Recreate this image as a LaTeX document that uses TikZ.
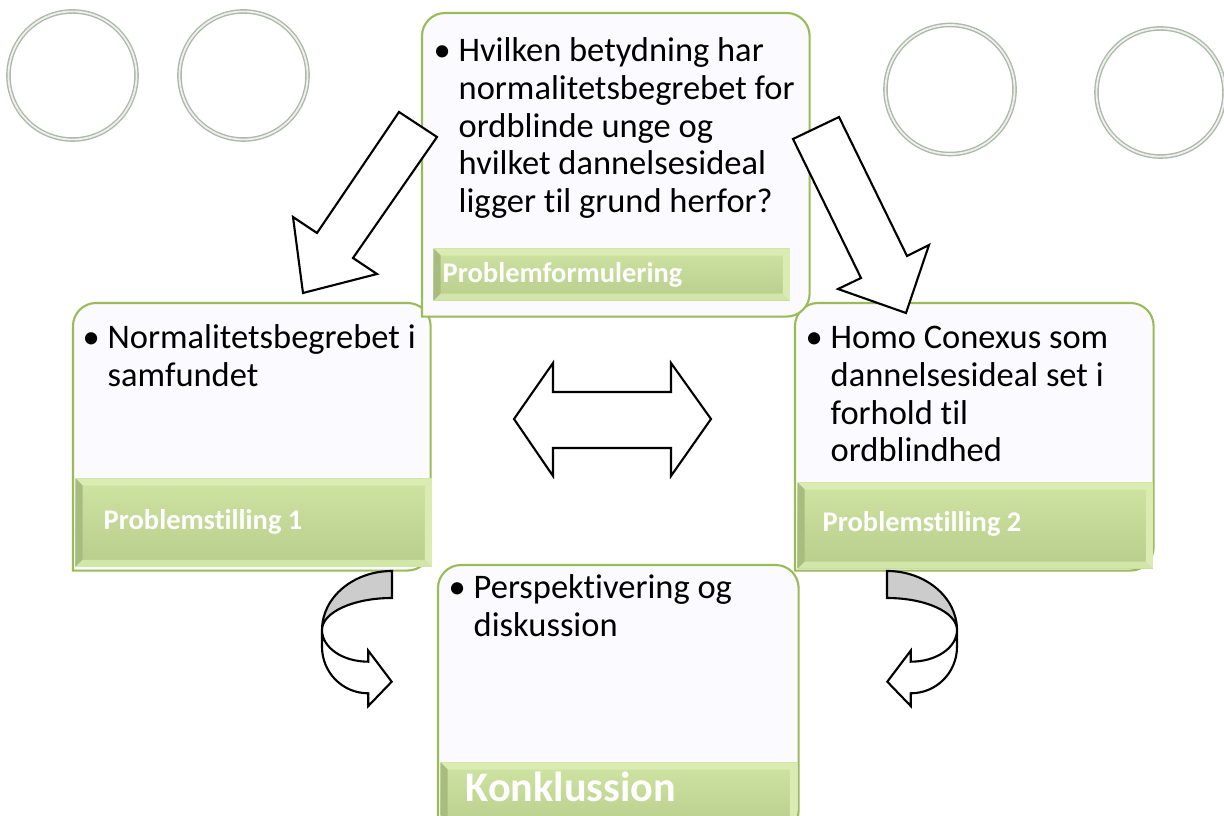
\documentclass[tikz,border=0pt]{standalone}
\usepackage{fontspec}
\setmainfont{Carlito}[Ligatures={NoCommon,NoContextual}]
\usetikzlibrary{shapes}
\definecolor{boxgreen}{HTML}{9BBB59}
\definecolor{boxwhite}{HTML}{FBFAFE}
\definecolor{barlight}{HTML}{CFE3A2}
\definecolor{bardark}{HTML}{B8CD8C}
\definecolor{bevlight}{HTML}{DAECB2}
\definecolor{bevdark}{HTML}{A8BC80}
\definecolor{ringgray}{HTML}{AEB8AB}
\definecolor{backgray}{HTML}{CCCCCC}
\newcommand\bulletmark{\llap{\makebox[0.25cm][l]{\textbullet}}}

\begin{document}
\begin{tikzpicture}[x=0.01cm,y=-0.01cm,
	box/.style={anchor=north west,inner sep=0pt},
	boxframe/.style={draw=boxgreen,fill=boxwhite,line width=0.6pt},
	bar/.style={anchor=north west,inner sep=0pt,top color=barlight,bottom color=bardark,
		path picture={
			\path (path picture bounding box.north west) coordinate (nw)
				(path picture bounding box.north east) coordinate (ne)
				(path picture bounding box.south west) coordinate (sw)
				(path picture bounding box.south east) coordinate (se);
			\fill[bevlight] (nw) -- (ne) -- ([shift={(-7,7)}]ne) -- ([shift={(7,7)}]nw) -- cycle;
			\fill[bevdark] (nw) -- ([shift={(7,7)}]nw) -- ([shift={(7,-7)}]sw) -- (sw) -- cycle;
			\fill[bevlight!80!bardark] (sw) -- (se) -- ([shift={(-7,-7)}]se) -- ([shift={(7,-7)}]sw) -- cycle;
			\fill[bevlight] (ne) -- (se) -- ([shift={(-7,-7)}]se) -- ([shift={(-7,7)}]ne) -- cycle;
		}},
	bodytext/.style={anchor=base west,inner sep=0pt,font=\fontsize{9.8}{10.7}\selectfont},
	bartext/.style={anchor=base west,inner sep=0pt,text=white,font=\fontsize{8.1}{9}\selectfont\bfseries},
	blockarrow/.style={draw=black,fill=white,line width=0.6pt},
	ring/.style={draw=ringgray,double=white!80!ringgray,double distance=0.5pt,line width=0.4pt},
	turnarrow/.pic={
		\filldraw[blockarrow,fill=backgray] (392,571) .. controls (353.4,571) and (322,597.4) .. (322,630)
			.. controls (322,612.3) and (353.4,598) .. (392,598) -- cycle;
		\filldraw[blockarrow] (322,630) .. controls (322,647.5) and (342.5,661.7) .. (368.3,661.7)
			-- (368.3,650.7) -- (391.7,681.7) -- (368.3,706) -- (368.3,693.3)
			.. controls (342.5,693.3) and (322,672.5) .. (322,646.7) -- cycle;
	}]
	\clip (0,0) rectangle (1224,816);

	\draw[ring] (72.5,75.5) circle[radius=0.64cm];
	\draw[ring] (243.5,75.5) circle[radius=0.64cm];
	\draw[ring] (950,89.5) circle[radius=0.645cm];
	\draw[ring] (1160.5,92.5) circle[radius=0.64cm];

	\node[box,minimum width=3.56cm,minimum height=2.66cm] (stil1) at (73,303) {};
	\filldraw[boxframe] (stil1.south west) [rounded corners=0.23cm] -- (stil1.north west) -- (stil1.north east) -- (stil1.south east) [sharp corners] -- cycle;
	\node[bar,minimum width=3.56cm,minimum height=0.88cm] (stil1bar) at (75,478) {};
	\node[bartext] (stil1label) at (103,530) {Problemstilling 1};
	\node[bodytext] (stil1text) at (107,349) {\bulletmark\begin{tabular}[t]{@{}l@{}}Normalitetsbegrebet i\\samfundet\end{tabular}};

	\node[box,minimum width=3.57cm,minimum height=2.66cm] (stil2) at (795,303) {};
	\filldraw[boxframe] (stil2.south west) [rounded corners=0.23cm] -- (stil2.north west) -- (stil2.north east) -- (stil2.south east) [sharp corners] -- cycle;
	\node[bar,minimum width=3.55cm,minimum height=0.86cm] (stil2bar) at (797,482) {};
	\node[bartext] (stil2label) at (822,532) {Problemstilling 2};
	\node[bodytext] (stil2text) at (830,349) {\bulletmark\begin{tabular}[t]{@{}l@{}}Homo Conexus som\\dannelsesideal set i\\forhold til\\ordblindhed\end{tabular}};

	\node[box,minimum width=3.86cm,minimum height=3.02cm] (formul) at (422,13) {};
	\filldraw[boxframe] (formul.south west) [rounded corners=0.23cm] -- (formul.north west) -- (formul.north east) -- (formul.south east) [sharp corners] -- cycle;
	\node[bar,minimum width=3.56cm,minimum height=0.52cm] (formulbar) at (433,248) {};
	\node[bartext] (formullabel) at (442,283) {Problemformulering};
	\node[bodytext] (formultext) at (458,62) {\bulletmark\begin{tabular}[t]{@{}l@{}}Hvilken betydning har\\normalitetsbegrebet for\\ordblinde unge og\\hvilket dannelsesideal\\ligger til grund herfor?\end{tabular}};

	\node[box,minimum width=3.59cm,minimum height=2.67cm] (konkl) at (438,565) {};
	\filldraw[boxframe] (konkl.south west) [rounded corners=0.23cm] -- (konkl.north west) -- (konkl.north east) -- (konkl.south east) [sharp corners] -- cycle;
	\node[bar,minimum width=3.56cm,minimum height=0.7cm] (konklbar) at (440,762) {};
	\node[bartext,font=\fontsize{12}{14}\selectfont\bfseries] (konkllabel) at (465,802) {Konklussion};
	\node[bodytext] (konkltext) at (473,599) {\bulletmark\begin{tabular}[t]{@{}l@{}}Perspektivering og\\diskussion\end{tabular}};

	\filldraw[blockarrow] (399,112) -- (437,137) -- (353,258) -- (377,274) -- (303,293) -- (293,217) -- (317,233) -- cycle;
	\filldraw[blockarrow] (793,139) -- (839,117) -- (907,256) -- (929,245) -- (906,313) -- (838,289) -- (861,278) -- cycle;
	\filldraw[blockarrow] (514,419) -- (553,363) -- (553,392) -- (671,392) -- (671,363) -- (711,419)
		-- (671,476) -- (671,448) -- (553,448) -- (553,476) -- cycle;
	\pic at (0,0) {turnarrow};
	\pic[xscale=-1] at (1279,0) {turnarrow};
\end{tikzpicture}
\end{document}
